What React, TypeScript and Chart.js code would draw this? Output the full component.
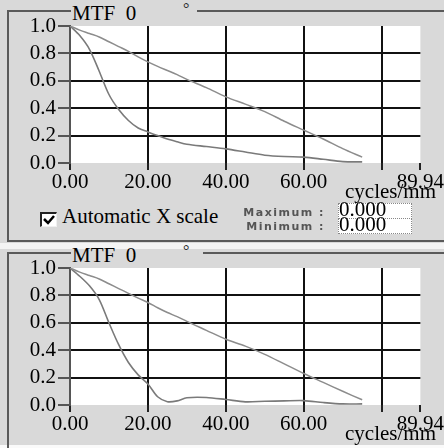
import React, { useEffect, useRef } from "react";
import { Chart, registerables } from "chart.js";

Chart.register(...registerables);

// spatial frequency (cycles/mm)
const freq = [0, 2.5, 5, 7.5, 10, 12.5, 15, 17.5, 20, 22.5, 25, 27.5, 30, 35, 40, 45, 50, 55, 60, 65, 70, 75];
// upper panel
const topDiffraction = [1.0, 0.97, 0.945, 0.92, 0.885, 0.85, 0.815, 0.775, 0.738, 0.705, 0.675, 0.645, 0.61, 0.55, 0.483, 0.43, 0.375, 0.305, 0.24, 0.175, 0.105, 0.043];
const topMeasured = [1.0, 0.93, 0.83, 0.67, 0.5, 0.39, 0.31, 0.255, 0.227, 0.2, 0.175, 0.155, 0.137, 0.12, 0.103, 0.08, 0.057, 0.047, 0.043, 0.027, 0.01, 0.008];
// lower panel
const botDiffraction = [1.0, 0.97, 0.945, 0.92, 0.885, 0.85, 0.815, 0.78, 0.748, 0.71, 0.675, 0.645, 0.61, 0.545, 0.48, 0.43, 0.37, 0.3, 0.23, 0.165, 0.1, 0.038];
const botMeasured = [1.0, 0.94, 0.87, 0.77, 0.6, 0.44, 0.31, 0.22, 0.153, 0.06, 0.024, 0.03, 0.053, 0.055, 0.04, 0.023, 0.027, 0.03, 0.032, 0.018, 0.008, 0.008];

const xTicks = [0, 20, 40, 60, 80, 89.94];
const xTickLabels = ["0.00", "20.00", "40.00", "60.00", "", "89.94"];
const yTicks = [0, 0.2, 0.4, 0.6, 0.8, 1.0];
const yTickLabels = ["0.0", "0.2", "0.4", "0.6", "0.8", "1.0"];

const SERIF = '"Liberation Serif", "DejaVu Serif", "Times New Roman", Times, serif';

const whiteArea = {
  id: "whiteArea",
  beforeDraw(chart: any) {
    const { ctx, chartArea } = chart;
    ctx.save();
    ctx.fillStyle = "#ffffff";
    ctx.fillRect(chartArea.left, chartArea.top, chartArea.right - chartArea.left, chartArea.bottom - chartArea.top);
    ctx.restore();
  },
};

function Plot({ s1, s2, top }: { s1: number[]; s2: number[]; top: number }) {
  const ref = useRef<HTMLCanvasElement>(null);
  useEffect(() => {
    if (!ref.current) return;
    const chart = new Chart(ref.current, {
      type: "line",
      data: {
        datasets: [
          {
            data: freq.map((x, i) => ({ x, y: s1[i] })),
            borderColor: "#8c8c8c",
            borderWidth: 1.5,
            pointRadius: 0,
            tension: 0.3,
          },
          {
            data: freq.map((x, i) => ({ x, y: s2[i] })),
            borderColor: "#7a7a7a",
            borderWidth: 1.6,
            pointRadius: 0,
            tension: 0.3,
          },
        ],
      },
      options: {
        animation: false,
        responsive: false,
        maintainAspectRatio: false,
        layout: { padding: { top: 26, right: 23, left: 0, bottom: 0 } },
        plugins: { legend: { display: false }, tooltip: { enabled: false } },
        scales: {
          x: {
            type: "linear",
            min: 0,
            max: 89.94,
            afterBuildTicks: (s: any) => {
              s.ticks = xTicks.map((v) => ({ value: v }));
            },
            afterFit: (s: any) => {
              s.height = 37;
            },
            ticks: {
              autoSkip: false,
              maxRotation: 0,
              minRotation: 0,
              color: "#000",
              padding: 0,
              font: { family: SERIF, size: 21 },
              callback: (v: any) => xTickLabels[xTicks.indexOf(Number(v))] ?? "",
            },
            grid: {
              lineWidth: 2,
              tickLength: 7,
              color: (c: any) => {
                const v = c.tick?.value;
                if (v === 89.94) return "rgba(0,0,0,0)";
                if (v === 0) return "#555";
                return "#111";
              },
              tickColor: "#222",
            },
            border: { display: false },
          },
          y: {
            min: 0,
            max: 1,
            afterBuildTicks: (s: any) => {
              s.ticks = yTicks.map((v) => ({ value: v }));
            },
            afterFit: (s: any) => {
              s.width = 70;
            },
            ticks: {
              autoSkip: false,
              color: "#000",
              padding: 2,
              font: { family: SERIF, size: 21 },
              callback: (v: any) => yTickLabels[yTicks.indexOf(Number(v))] ?? "",
            },
            grid: {
              lineWidth: 2,
              tickLength: 12,
              color: (c: any) => {
                const v = c.tick?.value;
                if (v === 0 || v === 1) return "rgba(0,0,0,0)";
                return "#111";
              },
              tickColor: "#555",
            },
            border: { display: true, color: "#555", width: 2 },
          },
        },
      } as any,
      plugins: [whiteArea],
    });
    return () => chart.destroy();
  }, [s1, s2]);
  return (
    <canvas
      ref={ref}
      width={444}
      height={200}
      style={{ position: "absolute", left: 0, top, width: 444, height: 200, display: "block" }}
    />
  );
}

const lineColor = "#5a5a5a";

function Frame({ top, rightStart }: { top: number; rightStart: number }) {
  return (
    <>
      <div style={{ position: "absolute", left: 7, top: top, width: 2, height: 232, background: lineColor }} />
      <div style={{ position: "absolute", left: 7, top: top, width: 64, height: 2, background: lineColor }} />
      <div style={{ position: "absolute", left: rightStart, top: top, width: 444 - rightStart, height: 2, background: lineColor }} />
      <div
        style={{
          position: "absolute",
          left: 72,
          top: top - 7,
          fontFamily: SERIF,
          fontSize: 21,
          lineHeight: "21px",
          whiteSpace: "pre",
          color: "#000",
        }}
      >
        MTF{"  "}0
      </div>
      <div
        style={{
          position: "absolute",
          left: 183,
          top: top - 9,
          fontFamily: SERIF,
          fontSize: 16,
          lineHeight: "16px",
          color: "#222",
        }}
      >
        °
      </div>
    </>
  );
}

export default function App() {
  const small: React.CSSProperties = {
    position: "absolute",
    fontFamily: "'DejaVu Sans', sans-serif",
    fontWeight: "bold",
    fontSize: 11,
    lineHeight: "11px",
    letterSpacing: "1.5px",
    color: "#555",
    textAlign: "right",
    width: 120,
  };
  const box: React.CSSProperties = {
    position: "absolute",
    left: 338,
    width: 72,
    height: 14,
    background: "#fff",
    border: "1px dotted #888",
  };
  const txt: React.CSSProperties = {
    position: "absolute",
    fontFamily: SERIF,
    fontSize: 21,
    lineHeight: "21px",
    color: "#000",
    whiteSpace: "pre",
  };
  return (
    <div
      style={{
        position: "fixed",
        left: 0,
        top: 0,
        width: 444,
        height: 448,
        background: "#d9d9d9",
        overflow: "hidden",
        fontFamily: SERIF,
      }}
    >
      {/* white separators */}
      <div style={{ position: "absolute", left: 0, top: 243, width: 444, height: 6, background: "#f4f4f4" }} />
      <div style={{ position: "absolute", left: 0, top: 445, width: 444, height: 3, background: "#fafafa" }} />

      <Frame top={10} rightStart={197} />
      <div style={{ position: "absolute", left: 7, top: 240, width: 437, height: 2, background: lineColor }} />
      <Frame top={252} rightStart={203} />
      <div style={{ position: "absolute", left: 7, top: 252, width: 2, height: 192, background: lineColor }} />

      <Plot s1={topDiffraction} s2={topMeasured} top={0} />
      <Plot s1={botDiffraction} s2={botMeasured} top={242} />

      <div style={{ ...txt, left: 345, top: 181 }}>cycles/mm</div>
      <div style={{ ...txt, left: 345, top: 423 }}>cycles/mm</div>

      {/* checkbox */}
      <div
        style={{
          position: "absolute",
          left: 40,
          top: 212,
          width: 14,
          height: 12,
          background: "#fff",
          borderTop: "2px solid #222",
          borderLeft: "2px solid #222",
          borderRight: "1px solid #f0f0f0",
          borderBottom: "1px solid #f0f0f0",
        }}
      >
        <svg width={14} height={12} style={{ display: "block" }}>
          <polyline points="2,5 6,9 12,2" fill="none" stroke="#000" strokeWidth={2.5} />
        </svg>
      </div>
      <div style={{ ...txt, left: 62, top: 206 }}>Automatic X scale</div>

      <div style={{ ...small, left: 205, top: 207 }}>Maximum :</div>
      <div style={{ ...small, left: 205, top: 221 }}>Minimum :</div>

      <div style={{ ...box, top: 203 }} />
      <div style={{ ...box, top: 218 }} />
      <div style={{ ...txt, left: 339, top: 199 }}>0.000</div>
      <div style={{ ...txt, left: 339, top: 214 }}>0.000</div>
    </div>
  );
}
